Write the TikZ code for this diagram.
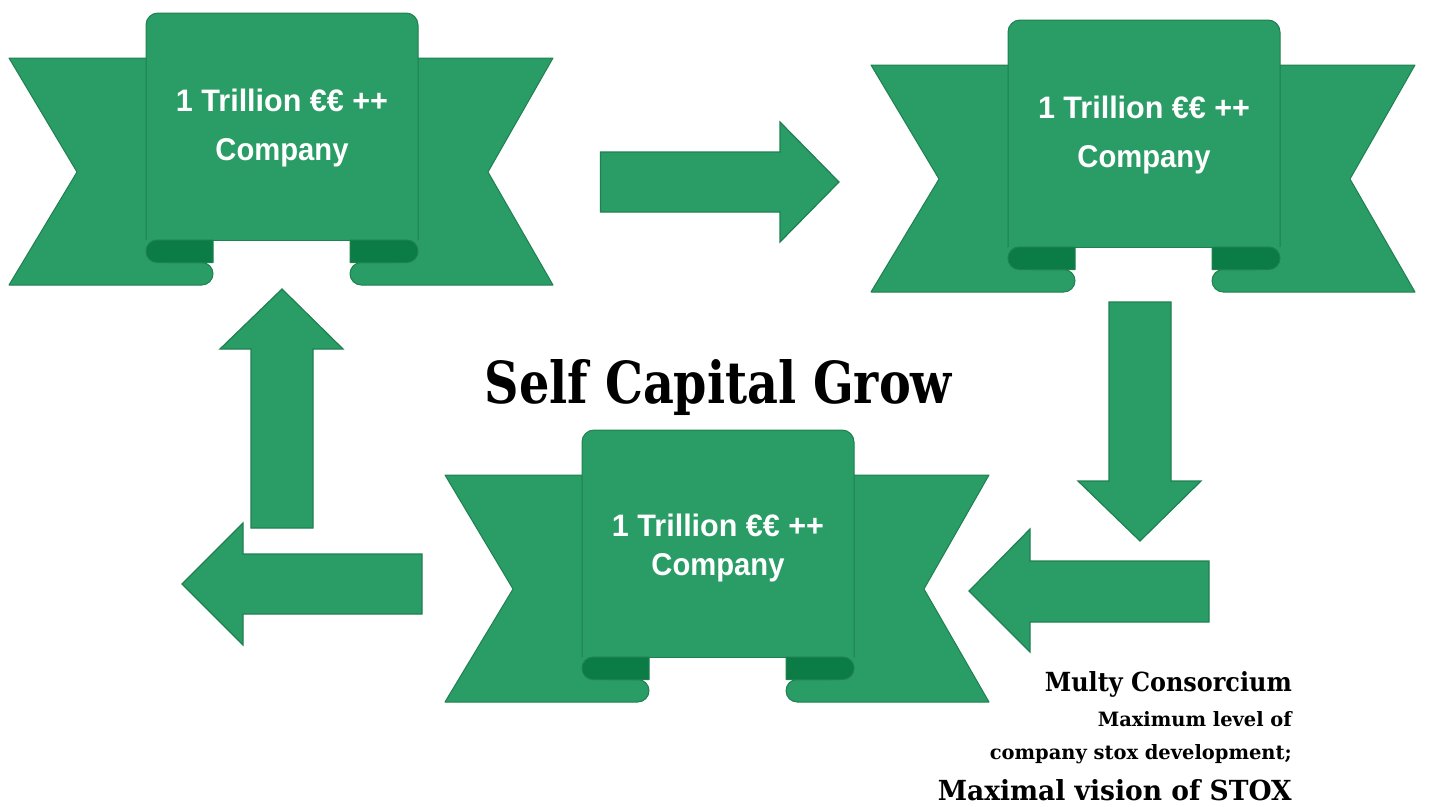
\documentclass[tikz,border=0pt]{standalone}
\usepackage{fontspec}
\usepackage{graphicx}
\setmainfont{DejaVu Serif}
\newfontfamily\ribfont{Liberation Sans}
\definecolor{ribgreen}{RGB}{41,157,101}
\definecolor{ribedge}{RGB}{31,128,80}
\definecolor{ribdark}{RGB}{11,124,69}
\tikzset{
  ribshape/.style={fill=ribgreen, draw=ribedge, line width=1pt, line join=round},
  curlshape/.style={fill=ribdark, draw=ribedge, line width=1pt, line join=round},
  arrowshape/.style={fill=ribgreen, draw=ribedge, line width=1.2pt, line join=miter},
  ribtext/.style={inner sep=0pt, anchor=base, text=white, font=\ribfont\bfseries},
  blacktext/.style={inner sep=0pt, anchor=base east, text=black, font=\bfseries},
  titletext/.style={inner sep=0pt, anchor=base, text=black, font=\bfseries}
}
\newcommand{\ribbonat}[5]{%
\begin{scope}[shift={(#1,#2)}]
  % left wing with tail
  \path[ribshape] (9,58) -- (170,58) -- (170,262.5) -- (201.75,262.5)
     .. controls (207.96,262.5) and (213,267.54) .. (213,273.75)
     .. controls (213,279.96) and (207.96,285) .. (201.75,285)
     -- (9,285) -- (77,172) -- cycle;
  % right wing with tail
  \path[ribshape] (553,58) -- (394,58) -- (394,262.5) -- (361.25,262.5)
     .. controls (355.04,262.5) and (350,267.54) .. (350,273.75)
     .. controls (350,279.96) and (355.04,285) .. (361.25,285)
     -- (553,285) -- (488,172) -- cycle;
  % central panel
  \path[ribshape, rounded corners=12pt] (146,240) -- (146,13) -- (418,13) -- (418,240);
  \draw[ribedge, line width=1pt] (213,240) -- (350,240);
  % dark curls
  \path[curlshape] (213,240) -- (157.25,240)
     .. controls (151.04,240) and (146,245.04) .. (146,251.25)
     .. controls (146,257.46) and (151.04,262.5) .. (157.25,262.5)
     -- (213,262.5) -- cycle;
  \path[curlshape] (350,240) -- (406.75,240)
     .. controls (412.96,240) and (418,245.04) .. (418,251.25)
     .. controls (418,257.46) and (412.96,262.5) .. (406.75,262.5)
     -- (350,262.5) -- cycle;
  \node[ribtext] (#3a) at (282,#4) {\resizebox{212pt}{22.5pt}{1 Trillion €€ ++}};
  \node[ribtext] (#3b) at (282,#5) {\resizebox{133pt}{22pt}{Company}};
\end{scope}}
\begin{document}
\begin{tikzpicture}[x=1pt,y=-1pt]
\fill[white] (0,0) rectangle (1429,806);
\useasboundingbox (0,0) rectangle (1429,806);
% ribbons
\ribbonat{0}{0}{r1}{111}{160}
\ribbonat{862}{7}{r2}{111}{160}
\ribbonat{436}{417}{r3}{119}{158.5}
% arrows
\path[arrowshape] (600.5,152) -- (780,152) -- (780,122) -- (839,182) -- (780,242) -- (780,212) -- (600.5,212) -- cycle;
\path[arrowshape] (1109,302) -- (1171,302) -- (1171,481) -- (1201,481) -- (1140,541) -- (1078,481) -- (1109,481) -- cycle;
\path[arrowshape] (1209,561) -- (1030,561) -- (1030,529) -- (969,591) -- (1030,652) -- (1030,622) -- (1209,622) -- cycle;
\path[arrowshape] (422,554) -- (243,554) -- (243,523) -- (182,584) -- (243,645) -- (243,614) -- (422,614) -- cycle;
\path[arrowshape] (251,528) -- (251,349) -- (220,349) -- (282,289) -- (343,349) -- (313,349) -- (313,528) -- cycle;
% texts
\node[titletext] (title) at (718.5,403) {\resizebox{467pt}{44pt}{Self Capital Grow}};
\node[blacktext] (t1) at (1292,691) {\resizebox{247pt}{20pt}{Multy Consorcium}};
\node[blacktext] (t2) at (1292,726) {\resizebox{194pt}{15pt}{Maximum level of}};
\node[blacktext] (t3) at (1292,759) {\resizebox{302pt}{15pt}{company stox development;}};
\node[blacktext] (t4) at (1292,800) {\resizebox{354pt}{21pt}{Maximal vision of STOX}};
\end{tikzpicture}
\end{document}
